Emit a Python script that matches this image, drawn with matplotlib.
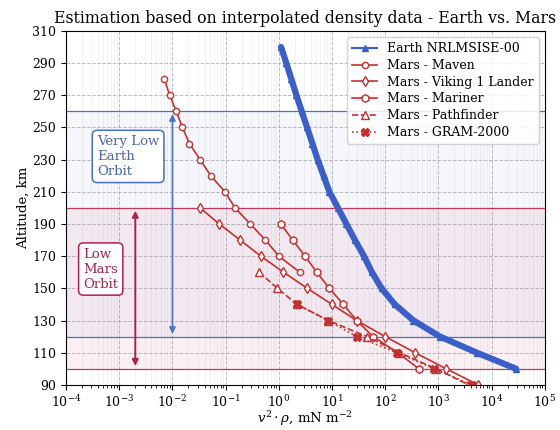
import matplotlib
matplotlib.use("Agg")
import matplotlib.pyplot as plt

plt.rcParams['font.family'] = ['DejaVu Serif']
plt.rcParams['mathtext.fontset'] = 'dejavuserif'

# dynamic pressure v^2*rho (mN/m^2) vs altitude (km)
earth_alt = [300, 290, 280, 270, 260, 250, 240, 230, 220, 210, 200,
             190, 180, 170, 160, 150, 140, 130, 120, 110, 100]
earth_val = [1.10, 1.38, 1.72, 2.14, 2.69, 3.39, 4.27, 5.37, 6.92, 8.91, 12.9,
             18.6, 26.9, 39.8, 56.2, 85.1, 151, 339, 1070, 5250, 28800]

maven_alt = [280, 270, 260, 250, 240, 230, 220, 210, 200, 190, 180, 170, 160]
maven_val = [0.0070, 0.0089, 0.0118, 0.0154, 0.0208, 0.033, 0.0525, 0.097,
             0.15, 0.29, 0.56, 1.0, 2.47]

viking_alt = [200, 190, 180, 170, 160, 150, 140, 130, 120, 110, 100, 90]
viking_val = [0.033, 0.076, 0.187, 0.46, 1.22, 3.44, 9.9, 29, 100, 363, 1390, 5600]

mariner_alt = [190, 180, 170, 160, 150, 140, 130, 120, 110, 100]
mariner_val = [1.09, 1.82, 3.11, 5.15, 8.9, 16.3, 29, 59, 170, 430]

pathfinder_alt = [160, 150, 140, 130, 120, 110, 100, 90]
pathfinder_val = [0.425, 0.94, 2.2, 8.5, 45, 185, 900, 3650]

gram_alt = [140, 130, 120, 110, 100, 90]
gram_val = [2.2, 8.5, 29, 164, 840, 4200]

vleo_band = (120, 260)
lmo_band = (100, 200)

blue = '#3b5fc9'
red = '#c62f2f'
band_blue = '#4a70c4'
band_red = '#c0385e'

fig = plt.figure(figsize=(5.6, 4.3), dpi=100)
ax = fig.add_axes([0.118, 0.105, 0.855, 0.823])

# orbit bands
ax.axhspan(*vleo_band, color=band_blue, alpha=0.05, lw=0)
ax.axhspan(*lmo_band, color=band_red, alpha=0.07, lw=0)
for y in vleo_band:
    ax.axhline(y, color=band_blue, lw=0.9)
for y in lmo_band:
    ax.axhline(y, color=band_red, lw=0.9)

# thick underlay for the Earth profile, thin labelled line on top
ax.plot(earth_val, earth_alt, color=blue, lw=4.5, solid_capstyle='round')
ax.plot(earth_val, earth_alt, color=blue, lw=1.5, marker='^', ms=5,
        label='Earth NRLMSISE-00')
ax.plot(maven_val, maven_alt, color=red, lw=1.2, marker='o', ms=4.5,
        mfc='white', label='Mars - Maven')
ax.plot(viking_val, viking_alt, color=red, lw=1.2, marker='d', ms=5.5,
        mfc='white', label='Mars - Viking 1 Lander')
ax.plot(mariner_val, mariner_alt, color=red, lw=1.2, marker='h', ms=5.5,
        mfc='white', label='Mars - Mariner')
ax.plot(pathfinder_val, pathfinder_alt, color=red, lw=1.2, ls='--', marker='^',
        ms=5.5, mfc='white', label='Mars - Pathfinder')
ax.plot(gram_val, gram_alt, color=red, lw=1.2, ls=':', marker='X', ms=5.5,
        label='Mars - GRAM-2000')

# arrows marking the orbit ranges
ax.annotate('', xy=(0.01, 120), xytext=(0.01, 260),
            arrowprops=dict(arrowstyle='<|-|>', color=band_blue, lw=1.2,
                            mutation_scale=9))
ax.annotate('', xy=(0.002, 100), xytext=(0.002, 200),
            arrowprops=dict(arrowstyle='<|-|>', color='#b0204a', lw=1.4,
                            mutation_scale=9))
ax.text(3.8e-4, 232, 'Very Low\nEarth\nOrbit', color='#4a66a8', fontsize=9.5,
        ha='left', va='center',
        bbox=dict(boxstyle='round,pad=0.35', fc='white', ec=band_blue, lw=1.1))
ax.text(2.1e-4, 162, 'Low\nMars\nOrbit', color='#a3284d', fontsize=9.5,
        ha='left', va='center',
        bbox=dict(boxstyle='round,pad=0.35', fc='white', ec='#b0204a', lw=1.1))

ax.set_xscale('log')
ax.set_xlim(1e-4, 1e5)
ax.set_ylim(90, 310)
ax.set_yticks(range(90, 311, 20))
ax.grid(which='major', ls='--', color='#bdbdbd', lw=0.7)
ax.grid(which='minor', axis='x', ls='-', color='#ededed', lw=0.5)
ax.set_axisbelow(True)
ax.tick_params(labelsize=9)

ax.set_title('Estimation based on interpolated density data - Earth vs. Mars',
             fontsize=11.3, pad=6)
ax.set_xlabel(r'$v^2 \cdot \rho$, mN m$^{-2}$', fontsize=9.5, labelpad=-1)
ax.set_ylabel('Altitude, km', fontsize=9.5, labelpad=2)
ax.legend(loc='upper right', fontsize=9, framealpha=0.85, handlelength=2,
          borderaxespad=0.5, labelspacing=0.3)

fig.savefig('out.png', dpi=100)
